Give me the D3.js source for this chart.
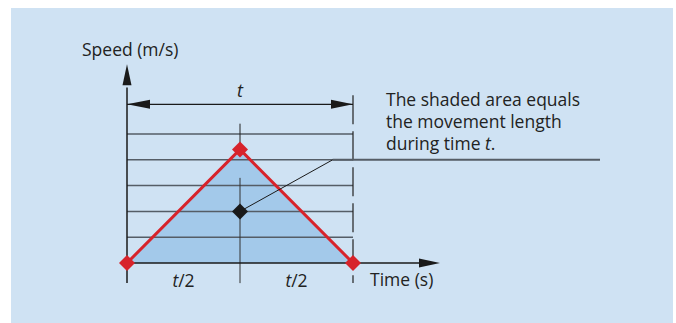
<!DOCTYPE html>
<html>
<head>
<meta charset="utf-8">
<script src="https://cdn.jsdelivr.net/npm/d3@7"></script>
<style>
  html, body { margin: 0; padding: 0; background: #fff; }
  svg { display: block; }
  text { font-family: "Open Sans", "Noto Sans", sans-serif; fill: #222; }
</style>
</head>
<body>
<svg id="drawing_region"></svg>
<script>
// speed profile: accelerate for t/2, brake for t/2
const times = [0, 0.5, 1];
const speeds = [0, 4.4, 0];
const gridLevels = [1, 2, 3, 4, 5];
const halfLabels = ["t/2", "t/2"];
const markerPoint = { time: 0.5, speed: 2 };
const noteLines = ["The shaded area equals", "the movement length", "during time "];

const width = 676, height = 323;
const svg = d3.select('#drawing_region')
    .attr('width', width)
    .attr('height', height);

// background panel
svg.append('rect')
    .attr('x', 11).attr('y', 8)
    .attr('width', 662).attr('height', 315)
    .attr('fill', '#cfe2f3');

const xscale = d3.scaleLinear().domain([0, 1]).range([127, 353]);
const yscale = d3.scaleLinear().domain([0, 5]).range([263, 134]);

const pts = times.map((t, i) => ({ t: t, v: speeds[i] }));
const gridColor = '#555d66';
const fontSize = '17.5px';

// shaded area
svg.append('path')
    .datum(pts)
    .attr('fill', '#a3c9ea')
    .attr('d', d3.area().x(d => xscale(d.t)).y0(yscale(0)).y1(d => yscale(d.v)));

// horizontal grid lines
svg.selectAll('.grid')
    .data(gridLevels)
    .enter().append('line')
    .attr('x1', xscale(0)).attr('x2', xscale(1))
    .attr('y1', d => yscale(d)).attr('y2', d => yscale(d))
    .attr('stroke', gridColor).attr('stroke-width', 1.5);

// centre vertical
svg.append('line')
    .attr('x1', xscale(0.5)).attr('x2', xscale(0.5))
    .attr('y1', yscale(5.4)).attr('y2', yscale(4.4))
    .attr('stroke', '#222').attr('stroke-width', 1);
svg.append('line')
    .attr('x1', xscale(0.5)).attr('x2', xscale(0.5))
    .attr('y1', yscale(3.3)).attr('y2', yscale(-0.78))
    .attr('stroke', '#333').attr('stroke-width', 1);

// right dashed vertical
svg.append('line')
    .attr('x1', xscale(1)).attr('x2', xscale(1))
    .attr('y1', yscale(6.5)).attr('y2', yscale(-0.78))
    .attr('stroke', '#222').attr('stroke-width', 1.2)
    .attr('stroke-dasharray', '29,7');

// arrowhead helper
function arrow(x, y, dir, len, half) {
    let p;
    if (dir === 'up') p = [[x, y], [x - half, y + len], [x + half, y + len]];
    if (dir === 'right') p = [[x, y], [x - len, y - half], [x - len, y + half]];
    if (dir === 'left') p = [[x, y], [x + len, y - half], [x + len, y + half]];
    svg.append('path').attr('d', d3.line()(p) + 'Z').attr('fill', '#1a1a1a');
}

// y axis
svg.append('line')
    .attr('x1', xscale(0)).attr('x2', xscale(0))
    .attr('y1', yscale(6.8)).attr('y2', yscale(-0.78))
    .attr('stroke', '#1a1a1a').attr('stroke-width', 1.5);
arrow(xscale(0), yscale(7.7), 'up', 21, 4.5);

// x axis
svg.append('line')
    .attr('x1', xscale(0)).attr('x2', xscale(1.3))
    .attr('y1', yscale(0)).attr('y2', yscale(0))
    .attr('stroke', '#1a1a1a').attr('stroke-width', 1.5);
arrow(xscale(1.385), yscale(0), 'right', 21, 4.5);

// dimension line for t
const dimY = yscale(6.15);
svg.append('line')
    .attr('x1', xscale(0)).attr('x2', xscale(1))
    .attr('y1', dimY).attr('y2', dimY)
    .attr('stroke', '#1a1a1a').attr('stroke-width', 1.2);
arrow(xscale(0), dimY, 'left', 23, 4.5);
arrow(xscale(1), dimY, 'right', 22, 4.5);

// red profile line
svg.append('path')
    .datum(pts)
    .attr('fill', 'none')
    .attr('stroke', '#d7232b').attr('stroke-width', 3)
    .attr('d', d3.line().x(d => xscale(d.t)).y(d => yscale(d.v)));

function diamond(cx, cy, r, color) {
    svg.append('path')
        .attr('d', `M${cx},${cy - r}L${cx + r},${cy}L${cx},${cy + r}L${cx - r},${cy}Z`)
        .attr('fill', color);
}
pts.forEach(d => diamond(xscale(d.t), yscale(d.v), 8, '#d7232b'));

// leader line from centre marker to note
const bend = { x: xscale(0.91), y: yscale(4) };
svg.append('line')
    .attr('x1', xscale(markerPoint.time)).attr('y1', yscale(markerPoint.speed))
    .attr('x2', bend.x).attr('y2', bend.y)
    .attr('stroke', '#1a1a1a').attr('stroke-width', 1);
svg.append('line')
    .attr('x1', bend.x).attr('x2', 600)
    .attr('y1', bend.y).attr('y2', bend.y)
    .attr('stroke', gridColor).attr('stroke-width', 2);
diamond(xscale(markerPoint.time), yscale(markerPoint.speed), 8, '#1a1a1a');

// labels
svg.append('text')
    .attr('x', 82).attr('y', 56)
    .attr('font-size', fontSize)
    .text('Speed (m/s)');

svg.append('text')
    .attr('x', 370).attr('y', 286)
    .attr('font-size', fontSize)
    .text('Time (s)');

svg.append('text')
    .attr('x', xscale(0.5)).attr('y', 97)
    .attr('text-anchor', 'middle')
    .attr('font-size', '18px').attr('font-style', 'italic')
    .text('t');

svg.selectAll('.half')
    .data(halfLabels)
    .enter().append('text')
    .attr('x', (d, i) => xscale(0.25 + i * 0.5))
    .attr('y', 287)
    .attr('text-anchor', 'middle')
    .attr('font-size', fontSize)
    .each(function(d) {
        const parts = d.split('/');
        d3.select(this).append('tspan').attr('font-style', 'italic').text(parts[0]);
        d3.select(this).append('tspan').text('/' + parts[1]);
    });

const note = svg.append('g');
noteLines.forEach((s, i) => {
    const tx = note.append('text')
        .attr('x', 386).attr('y', 106 + i * 22)
        .attr('font-size', fontSize)
        .text(s);
    if (i === noteLines.length - 1) {
        tx.append('tspan').attr('font-style', 'italic').text('t');
        tx.append('tspan').text('.');
    }
});
</script>
</body>
</html>
